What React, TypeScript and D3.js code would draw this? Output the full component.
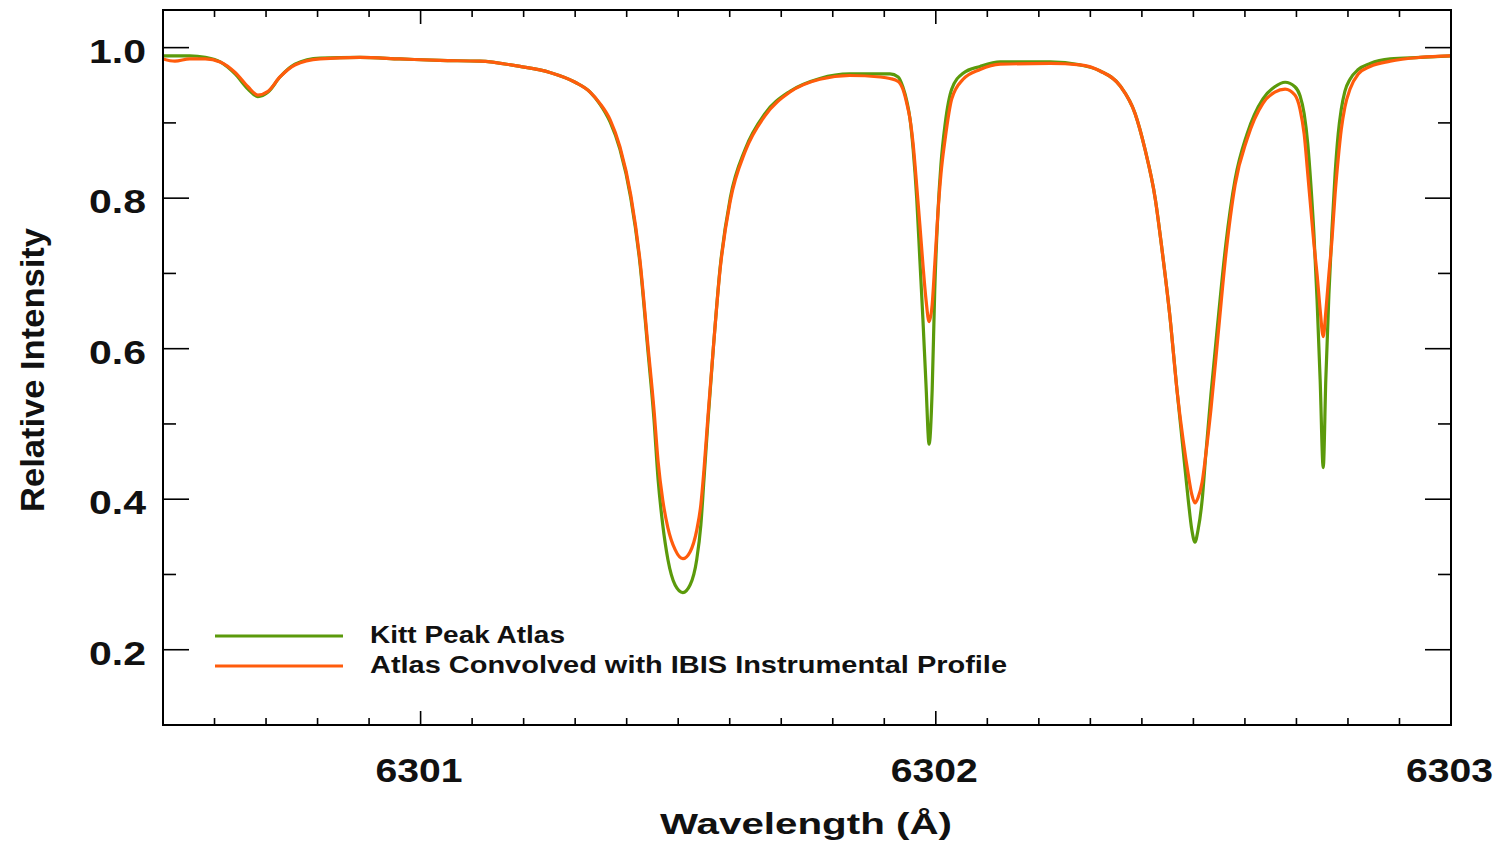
import React from "react";
import * as d3 from "d3";

// wavelength grid (Angstrom) and the two intensity profiles
const wavelength = [
  6300.5, 6300.523, 6300.552, 6300.582, 6300.611, 6300.64, 6300.665, 6300.684,
  6300.704, 6300.727, 6300.756, 6300.805, 6300.882, 6300.96, 6301.038, 6301.115,
  6301.193, 6301.251, 6301.3, 6301.329, 6301.348, 6301.368, 6301.387, 6301.408,
  6301.426, 6301.441, 6301.453, 6301.461, 6301.47, 6301.48, 6301.494, 6301.509,
  6301.523, 6301.536, 6301.544, 6301.55, 6301.558, 6301.568, 6301.581, 6301.601,
  6301.63, 6301.668, 6301.717, 6301.775, 6301.833, 6301.892, 6301.911, 6301.927,
  6301.936, 6301.944, 6301.95, 6301.956, 6301.963, 6301.969, 6301.975, 6301.981,
  6301.987, 6301.993, 6301.998, 6302.004, 6302.01, 6302.018, 6302.031, 6302.053,
  6302.086, 6302.125, 6302.222, 6302.28, 6302.319, 6302.358, 6302.387, 6302.406,
  6302.426, 6302.439, 6302.455, 6302.468, 6302.48, 6302.49, 6302.497, 6302.503,
  6302.509, 6302.517, 6302.524, 6302.534, 6302.548, 6302.563, 6302.581, 6302.604,
  6302.635, 6302.658, 6302.678, 6302.697, 6302.707, 6302.715, 6302.722, 6302.728,
  6302.734, 6302.74, 6302.746, 6302.752, 6302.757, 6302.763, 6302.769, 6302.775,
  6302.781, 6302.787, 6302.794, 6302.804, 6302.82, 6302.843, 6302.882, 6302.94,
  6303.0,
];

const kittPeak = [
  0.989, 0.989, 0.989, 0.987, 0.981, 0.965, 0.945, 0.935,
  0.941, 0.961, 0.978, 0.986, 0.987, 0.985, 0.983, 0.982,
  0.975, 0.967, 0.954, 0.941, 0.925, 0.901, 0.865, 0.8,
  0.712, 0.599, 0.506, 0.426, 0.366, 0.32, 0.286, 0.276,
  0.286, 0.32, 0.366, 0.426, 0.506, 0.599, 0.705, 0.8,
  0.865, 0.912, 0.942, 0.959, 0.965, 0.965, 0.965, 0.961,
  0.948, 0.928, 0.905, 0.865, 0.799, 0.719, 0.639, 0.552,
  0.473, 0.546, 0.679, 0.779, 0.845, 0.898, 0.945, 0.966,
  0.975, 0.981, 0.981, 0.977, 0.969, 0.949, 0.912, 0.865,
  0.799, 0.732, 0.639, 0.546, 0.466, 0.399, 0.359, 0.343,
  0.359, 0.399, 0.459, 0.539, 0.639, 0.739, 0.825, 0.885,
  0.932, 0.948, 0.954, 0.948, 0.936, 0.912, 0.872, 0.818,
  0.752, 0.665, 0.559, 0.442, 0.559, 0.672, 0.759, 0.832,
  0.885, 0.918, 0.942, 0.958, 0.971, 0.979, 0.985, 0.987,
  0.989,
];

const convolved = [
  0.985, 0.982, 0.985, 0.985, 0.981, 0.967, 0.948, 0.937,
  0.942, 0.961, 0.977, 0.985, 0.987, 0.985, 0.983, 0.982,
  0.975, 0.967, 0.954, 0.941, 0.926, 0.904, 0.868, 0.804,
  0.716, 0.606, 0.519, 0.45, 0.399, 0.362, 0.333, 0.321,
  0.33, 0.359, 0.393, 0.439, 0.512, 0.599, 0.703, 0.796,
  0.862, 0.909, 0.941, 0.958, 0.963, 0.961, 0.959, 0.955,
  0.945, 0.925, 0.905, 0.872, 0.816, 0.765, 0.712, 0.665,
  0.636, 0.659, 0.712, 0.779, 0.832, 0.878, 0.932, 0.958,
  0.971, 0.978, 0.979, 0.977, 0.969, 0.949, 0.912, 0.865,
  0.799, 0.732, 0.639, 0.546, 0.479, 0.433, 0.406, 0.395,
  0.402, 0.423, 0.459, 0.519, 0.619, 0.725, 0.818, 0.878,
  0.926, 0.941, 0.945, 0.937, 0.918, 0.885, 0.832, 0.785,
  0.739, 0.699, 0.652, 0.616, 0.649, 0.699, 0.745, 0.805,
  0.852, 0.891, 0.921, 0.945, 0.965, 0.975, 0.982, 0.987,
  0.989,
];

const xMajorTicks = [6301, 6302, 6303];
const xMinorTicks = [
  6300.6, 6300.7, 6300.8, 6300.9, 6301.1, 6301.2, 6301.3, 6301.4, 6301.5,
  6301.6, 6301.7, 6301.8, 6301.9, 6302.1, 6302.2, 6302.3, 6302.4, 6302.5,
  6302.6, 6302.7, 6302.8, 6302.9,
];
const yMajorTicks = [0.2, 0.4, 0.6, 0.8, 1.0];
const yMinorTicks = [0.3, 0.5, 0.7, 0.9];

const seriesNames = ["Kitt Peak Atlas", "Atlas Convolved with IBIS Instrumental Profile"];
const seriesColors = ["#5b9a0b", "#ff5c0c"];

const W = 1504;
const H = 842;
const plot = { left: 163, right: 1451, top: 10, bottom: 725 };
const font = "'Liberation Sans', Arial, Helvetica, sans-serif";

export default function App() {
  const x = d3.scaleLinear().domain([6300.5, 6303]).range([plot.left, plot.right]);
  const y = d3.scaleLinear().domain([0.1, 1.05]).range([plot.bottom, plot.top]);

  const line = d3
    .line<number>()
    .x((_, i) => x(wavelength[i]))
    .y((d) => y(d))
    .curve(d3.curveMonotoneX);

  const series = [kittPeak, convolved];

  return (
    <div style={{ position: "absolute", left: 0, top: 0 }}>
      <svg width={W} height={H} style={{ display: "block", background: "#fff" }}>
        <defs>
          <clipPath id="plot-clip">
            <rect
              x={plot.left}
              y={plot.top}
              width={plot.right - plot.left}
              height={plot.bottom - plot.top}
            />
          </clipPath>
        </defs>

        {/* curves */}
        <g clipPath="url(#plot-clip)">
          {series.map((s, i) => (
            <path
              key={i}
              d={line(s) || ""}
              fill="none"
              stroke={seriesColors[i]}
              strokeWidth={3.2}
              strokeLinejoin="round"
            />
          ))}
        </g>

        {/* ticks */}
        <g stroke="#000" strokeWidth={1.6}>
          {xMajorTicks.map((t) => (
            <g key={"xM" + t}>
              <line x1={x(t)} x2={x(t)} y1={plot.bottom} y2={plot.bottom - 14} />
              <line x1={x(t)} x2={x(t)} y1={plot.top} y2={plot.top + 14} />
            </g>
          ))}
          {xMinorTicks.map((t) => (
            <g key={"xm" + t}>
              <line x1={x(t)} x2={x(t)} y1={plot.bottom} y2={plot.bottom - 7} />
              <line x1={x(t)} x2={x(t)} y1={plot.top} y2={plot.top + 7} />
            </g>
          ))}
          {yMajorTicks.map((t) => (
            <g key={"yM" + t}>
              <line x1={plot.left} x2={plot.left + 26} y1={y(t)} y2={y(t)} />
              <line x1={plot.right} x2={plot.right - 26} y1={y(t)} y2={y(t)} />
            </g>
          ))}
          {yMinorTicks.map((t) => (
            <g key={"ym" + t}>
              <line x1={plot.left} x2={plot.left + 13} y1={y(t)} y2={y(t)} />
              <line x1={plot.right} x2={plot.right - 13} y1={y(t)} y2={y(t)} />
            </g>
          ))}
        </g>

        {/* frame */}
        <rect
          x={plot.left}
          y={plot.top}
          width={plot.right - plot.left}
          height={plot.bottom - plot.top}
          fill="none"
          stroke="#000"
          strokeWidth={2}
        />

        {/* tick labels */}
        <g fontFamily={font} fontWeight="bold" fill="#111">
          {yMajorTicks.map((t) => (
            <text
              key={"yl" + t}
              x={89}
              y={y(t) + 15}
              fontSize={33}
              textLength={57}
              lengthAdjust="spacingAndGlyphs"
            >
              {d3.format(".1f")(t)}
            </text>
          ))}
          {xMajorTicks.map((t) => (
            <text
              key={"xl" + t}
              x={x(t) - 45}
              y={782}
              fontSize={34}
              textLength={87}
              lengthAdjust="spacingAndGlyphs"
            >
              {t}
            </text>
          ))}
          <text
            x={660}
            y={834}
            fontSize={30}
            textLength={292}
            lengthAdjust="spacingAndGlyphs"
          >
            Wavelength (Å)
          </text>
          <text
            transform={`translate(44, 512) rotate(-90)`}
            fontSize={34}
            textLength={284}
            lengthAdjust="spacingAndGlyphs"
          >
            Relative Intensity
          </text>
        </g>

        {/* legend */}
        <g fontFamily={font} fontWeight="bold" fill="#111" fontSize={23}>
          {seriesNames.map((name, i) => (
            <g key={name}>
              <line
                x1={215}
                x2={343}
                y1={636 + i * 30}
                y2={636 + i * 30}
                stroke={seriesColors[i]}
                strokeWidth={3}
              />
              <text
                x={370}
                y={643 + i * 30}
                textLength={i === 0 ? 195 : 637}
                lengthAdjust="spacingAndGlyphs"
              >
                {name}
              </text>
            </g>
          ))}
        </g>
      </svg>
    </div>
  );
}
